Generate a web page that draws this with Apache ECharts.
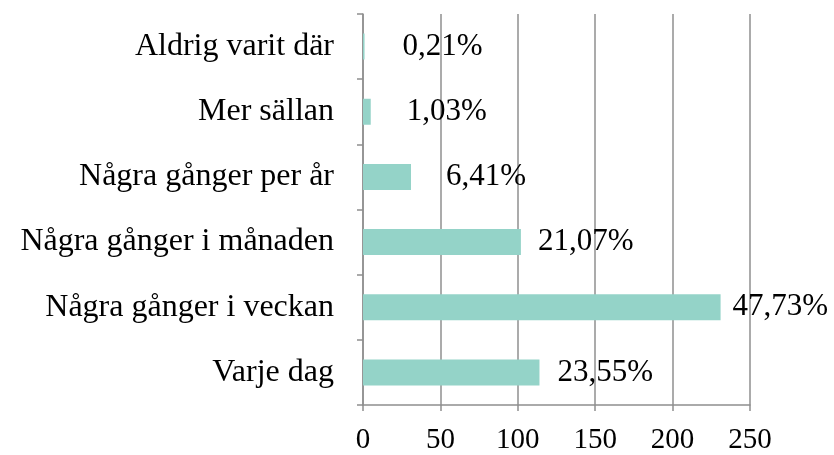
<!doctype html>
<html>
<head>
<meta charset="UTF-8">
<title></title>
<script src="https://cdn.jsdelivr.net/npm/echarts@6/dist/echarts.min.js"></script>
<style>
  html, body { margin: 0; padding: 0; background: #fff; }
  #chart { width: 834px; height: 455px; }
</style>
</head>
<body>
<div id="chart"></div>
<script>
// kategorier nedifrån och upp
var categories = ['Varje dag', 'Några gånger i veckan', 'Några gånger i månaden', 'Några gånger per år', 'Mer sällan', 'Aldrig varit där'];
var counts = [114, 231, 102, 31, 5, 1];
var percents = ['23,55%', '47,73%', '21,07%', '6,41%', '1,03%', '0,21%'];
var xTicks = [0, 50, 100, 150, 200, 250];

// avstånd från stapelns slut till etiketten
var labelGap = [18, 12, 17, 35, 36, 38];

var chart = echarts.init(document.getElementById('chart'));
var fontFam = '"Liberation Serif", "Times New Roman", serif';
var gray = '#8f8f8f';

var barData = counts.map(function (v, i) {
  return { value: v, label: { distance: labelGap[i] } };
});

chart.setOption({
  animation: false,
  grid: { left: 363, right: 84, top: 14, bottom: 50 },
  xAxis: {
    type: 'value',
    min: xTicks[0],
    max: xTicks[xTicks.length - 1],
    interval: 50,
    axisLine: { show: true, lineStyle: { color: gray, width: 1.5 } },
    axisTick: { show: true, length: 6, lineStyle: { color: gray, width: 1.5 } },
    splitLine: { show: true, lineStyle: { color: gray, width: 1.5 } },
    axisLabel: { color: '#000', fontFamily: fontFam, fontSize: 29, margin: 21 }
  },
  yAxis: {
    type: 'category',
    data: categories,
    axisLine: { show: true, lineStyle: { color: gray, width: 1.5 } },
    axisTick: { show: true, length: 6, alignWithLabel: false, lineStyle: { color: gray, width: 1.5 } },
    axisLabel: { color: '#000', fontFamily: fontFam, fontSize: 32, margin: 29 }
  },
  series: [{
    type: 'bar',
    data: barData,
    barWidth: 26,
    itemStyle: { color: '#94d3c8' },
    label: {
      show: true,
      position: 'right',
      color: '#000',
      fontFamily: fontFam,
      fontSize: 31,
      formatter: function (p) { return percents[p.dataIndex]; }
    }
  }]
});
</script>
</body>
</html>
